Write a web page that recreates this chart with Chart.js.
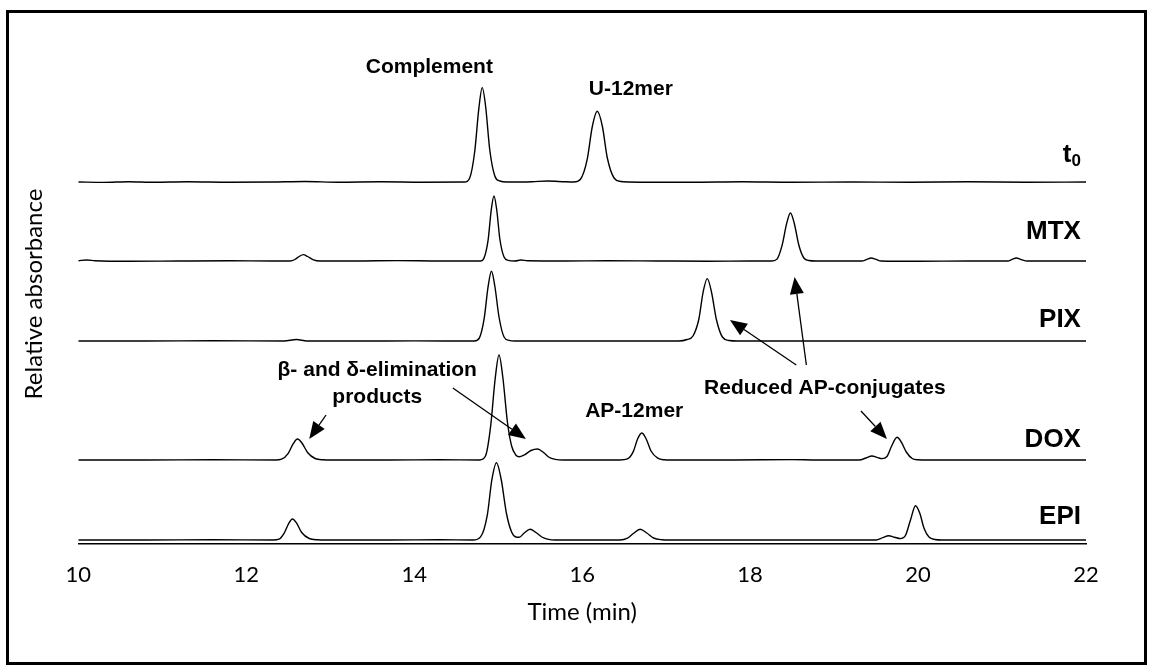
<!DOCTYPE html>
<html>
<head>
<meta charset="utf-8">
<script src="https://cdn.jsdelivr.net/npm/chart.js@4/dist/chart.umd.min.js"></script>
<style>
  html, body { margin: 0; padding: 0; background: #fff; }
  canvas { display: block; }
</style>
</head>
<body>
<canvas id="myChart" width="1153" height="672"></canvas>
<script>
// retention time (min) vs relative absorbance, one array of [time, signal] per sample
const traceNames = ['t0', 'MTX', 'PIX', 'DOX', 'EPI'];
const stackOffsets = [362, 283, 203, 84, 4];
const xTicks = [10, 12, 14, 16, 18, 20, 22];

const t0Trace = [
  [10, 0], [10.3, -0.4], [10.6, 0.3], [10.9, -0.3], [11.3, 0.2], [11.8, -0.3], [12.3, 0],
  [12.7, 0.5], [13.1, -0.2], [13.6, 0.2], [14.1, -0.2], [14.6, 0],
  [14.66, 3.8], [14.72, 30], [14.77, 73.6], [14.81, 94.4], [14.85, 76], [14.9, 32],
  [14.96, 6], [15.02, 1], [15.1, 0], [15.4, 0.3], [15.59, 1], [15.8, 0.2], [15.9, 0],
  [15.98, 2.8], [16.06, 22.6], [16.12, 55], [16.18, 70.7], [16.24, 56], [16.3, 24],
  [16.38, 4], [16.46, 0.5], [16.55, 0], [17.3, -0.3], [17.9, 0.2], [18.5, -0.3],
  [19.2, 0], [19.9, -0.3], [20.6, 0.2], [21.3, -0.2], [22, 0]
];
const mtxTrace = [
  [10, 0.3], [10.1, 1], [10.2, 0.3], [10.6, -0.3], [11.2, 0], [11.8, 0.2], [12.3, 0],
  [12.52, 0], [12.58, 1.5], [12.63, 4.5], [12.68, 6.4], [12.73, 4.5], [12.8, 1.2],
  [12.88, 0], [13.3, 0], [13.8, 0.4], [14.3, 0], [14.79, 0],
  [14.83, 2.6], [14.88, 20.8], [14.917, 50.7], [14.95, 65], [14.983, 51], [15.02, 22],
  [15.07, 4], [15.12, 0.7], [15.2, 0], [15.27, 1], [15.35, 0.2], [15.8, 0], [16.3, 0.2],
  [16.9, 0], [17.5, -0.2], [18.0, 0], [18.26, 0],
  [18.32, 1.9], [18.38, 15.4], [18.435, 37.4], [18.48, 48], [18.525, 38], [18.58, 16],
  [18.64, 3], [18.7, 0.5], [18.78, 0], [19.33, 0], [19.39, 1.6], [19.44, 3], [19.5, 1.6],
  [19.56, 0], [20.0, -0.3], [20.6, 0], [21.07, 0], [21.12, 1.6], [21.17, 3], [21.23, 1.4],
  [21.3, 0], [21.7, 0], [22, 0]
];
const pixTrace = [
  [10, 0], [10.8, 0], [11.6, 0.2], [12.45, 0], [12.6, 1.5], [12.72, 0], [13.3, 0],
  [14.0, 0.1], [14.72, 0],
  [14.775, 2.8], [14.833, 22.3], [14.88, 54.4], [14.92, 69.7], [14.96, 55], [15.01, 24],
  [15.07, 4], [15.13, 0.6], [15.2, 0], [15.8, 0], [16.4, 0], [17.15, 0],
  [17.25, 1.5], [17.32, 5], [17.39, 22], [17.44, 48.7], [17.49, 62.4], [17.54, 49],
  [17.6, 21], [17.67, 4], [17.75, 0.5], [17.85, 0], [18.5, 0], [19.3, 0], [20.2, 0],
  [21.0, 0], [22, 0]
];
const doxTrace = [
  [10, 0], [10.8, 0], [11.6, 0.2], [12.35, 0],
  [12.42, 0.8], [12.5, 6.7], [12.56, 16.4], [12.61, 21], [12.665, 16.8], [12.73, 7.5],
  [12.82, 1.5], [12.92, 0.2], [13.0, 0], [13.7, 0], [14.3, 0.2], [14.78, 0],
  [14.85, 4.2], [14.91, 33.6], [14.965, 81.9], [15.01, 105], [15.055, 83], [15.11, 38],
  [15.16, 14], [15.21, 5], [15.25, 3.2], [15.31, 5], [15.39, 9.5], [15.47, 11],
  [15.54, 7.5], [15.6, 3], [15.68, 0.6], [15.78, 0], [16.2, 0], [16.45, 0],
  [16.54, 1.1], [16.61, 8.6], [16.66, 21], [16.71, 27], [16.76, 21.5], [16.82, 9],
  [16.9, 1.8], [16.98, 0.2], [17.05, 0], [17.8, 0], [18.5, 0.4], [18.8, 0], [19.3, 0],
  [19.38, 2], [19.45, 4], [19.52, 2.4], [19.57, 1.4], [19.63, 3.5], [19.68, 13],
  [19.75, 22.7], [19.8, 18], [19.86, 8], [19.93, 1.5], [20.0, 0.2], [20.1, 0],
  [20.8, 0], [21.5, 0], [22, 0]
];
const epiTrace = [
  [10, 0], [10.8, 0], [11.6, 0.2], [12.32, 0],
  [12.39, 0.8], [12.45, 6.7], [12.505, 16.4], [12.55, 21], [12.6, 16.8], [12.66, 7.5],
  [12.75, 1.5], [12.85, 0.2], [12.95, 0], [13.7, 0], [14.3, 0.2], [14.7, 0],
  [14.79, 3.1], [14.87, 24.7], [14.925, 60.3], [14.98, 77.3], [15.035, 61], [15.1, 26],
  [15.16, 8], [15.21, 3], [15.25, 2.7], [15.31, 7], [15.38, 10.7], [15.45, 7.5],
  [15.52, 3], [15.6, 0.6], [15.68, 0], [16.1, 0], [16.45, 0],
  [16.54, 1.8], [16.61, 6.5], [16.69, 10.7], [16.77, 7], [16.85, 2], [16.95, 0.3],
  [17.05, 0], [17.8, 0], [18.6, 0], [19.5, 0],
  [19.58, 2.4], [19.65, 4.3], [19.72, 2.8], [19.79, 1.4], [19.85, 4.5], [19.91, 20],
  [19.97, 34.3], [20.02, 27], [20.07, 12], [20.13, 3], [20.2, 0.5], [20.28, 0],
  [21.0, 0], [21.6, 0], [22, 0]
];
const traces = [t0Trace, mtxTrace, pixTrace, doxTrace, epiTrace];

// peak annotations, placed in data coordinates (time, signal level)
const noteTexts = ['Complement', 'U-12mer', 'β- and δ-elimination', 'products', 'AP-12mer', 'Reduced AP-conjugates'];
const noteTimes = [14.18, 16.58, 13.56, 13.56, 16.62, 18.89];
const noteLevels = [477, 455, 174, 147, 133, 156];
const arrowFrom = [[12.95, 129], [14.46, 156], [18.55, 179], [18.67, 179], [19.32, 133]];
const arrowTo = [[12.75, 105], [15.33, 105], [17.76, 224], [18.53, 267], [19.63, 105]];
const nameTime = 21.94;
const nameLevels = [389, 312, 224, 104, 27];

const annotate = {
  id: 'annotate',
  beforeDraw(chart) {
    const ctx = chart.ctx;
    ctx.save();
    ctx.fillStyle = '#fff';
    ctx.fillRect(0, 0, chart.width, chart.height);
    ctx.restore();
  },
  afterDraw(chart) {
    const ctx = chart.ctx;
    const xs = chart.scales.x;
    const ys = chart.scales.y;
    ctx.save();
    ctx.fillStyle = '#000';
    ctx.strokeStyle = '#000';

    ctx.font = 'bold 21px "Liberation Sans", Arial, sans-serif';
    ctx.textAlign = 'center';
    ctx.textBaseline = 'middle';
    noteTexts.forEach((txt, i) => {
      ctx.fillText(txt, xs.getPixelForValue(noteTimes[i]), ys.getPixelForValue(noteLevels[i]));
    });

    ctx.lineWidth = 1.3;
    arrowFrom.forEach((from, i) => {
      const x1 = xs.getPixelForValue(from[0]);
      const y1 = ys.getPixelForValue(from[1]);
      const x2 = xs.getPixelForValue(arrowTo[i][0]);
      const y2 = ys.getPixelForValue(arrowTo[i][1]);
      const ang = Math.atan2(y2 - y1, x2 - x1);
      const len = 17;
      const hw = 7;
      const bx = x2 - len * Math.cos(ang);
      const by = y2 - len * Math.sin(ang);
      ctx.beginPath();
      ctx.moveTo(x1, y1);
      ctx.lineTo(bx, by);
      ctx.stroke();
      ctx.beginPath();
      ctx.moveTo(x2, y2);
      ctx.lineTo(bx - hw * Math.sin(ang), by + hw * Math.cos(ang));
      ctx.lineTo(bx + hw * Math.sin(ang), by - hw * Math.cos(ang));
      ctx.closePath();
      ctx.fill();
    });

    // sample names on the right
    ctx.textAlign = 'right';
    const nx = xs.getPixelForValue(nameTime);
    traceNames.forEach((name, i) => {
      const ny = ys.getPixelForValue(nameLevels[i]);
      if (name === 't0') {
        ctx.font = 'bold 17px "Liberation Sans", Arial, sans-serif';
        ctx.fillText('0', nx, ny + 6);
        const w0 = ctx.measureText('0').width;
        ctx.font = 'bold 26px "Liberation Sans", Arial, sans-serif';
        ctx.fillText('t', nx - w0, ny);
      } else {
        ctx.font = 'bold 26px "Liberation Sans", Arial, sans-serif';
        ctx.fillText(name, nx, ny);
      }
    });

    // frame round the figure
    ctx.lineWidth = 3;
    ctx.strokeRect(7.5, 11.5, 1138, 652);
    ctx.restore();
  }
};

const ctx = document.getElementById('myChart').getContext('2d');
const myChart = new Chart(ctx, {
  type: 'line',
  data: {
    datasets: traces.map((trace, i) => ({
      label: traceNames[i],
      data: trace.map((p) => ({ x: p[0], y: p[1] + stackOffsets[i] })),
      borderColor: '#000',
      borderWidth: 1.4,
      pointRadius: 0,
      fill: false,
      cubicInterpolationMode: 'monotone',
    })),
  },
  options: {
    responsive: false,
    animation: false,
    devicePixelRatio: 1,
    layout: { padding: { top: 44, right: 67, bottom: 0, left: 0 } },
    plugins: { legend: { display: false }, tooltip: { enabled: false } },
    scales: {
      x: {
        type: 'linear',
        min: 10,
        max: 22,
        afterBuildTicks: (scale) => {
          scale.ticks = xTicks.map((v) => ({ value: v }));
        },
        afterFit: (scale) => {
          scale.height = 128;
        },
        grid: { display: false, drawTicks: false },
        border: { display: true, color: '#000', width: 1.5 },
        ticks: {
          padding: 18,
          color: '#000',
          font: { family: 'Lato', size: 22 },
        },
        title: {
          display: true,
          text: 'Time (min)',
          color: '#000',
          font: { family: 'Lato', size: 24 },
          padding: { top: 0, bottom: 45 },
        },
      },
      y: {
        min: 0,
        max: 500,
        afterFit: (scale) => {
          scale.width = 78.3;
        },
        grid: { display: false },
        border: { display: false },
        ticks: { display: false },
        title: {
          display: true,
          text: 'Relative absorbance',
          color: '#000',
          font: { family: 'Lato', size: 24 },
          padding: { top: 20, bottom: 0 },
        },
      },
    },
  },
  plugins: [annotate],
});
</script>
</body>
</html>
